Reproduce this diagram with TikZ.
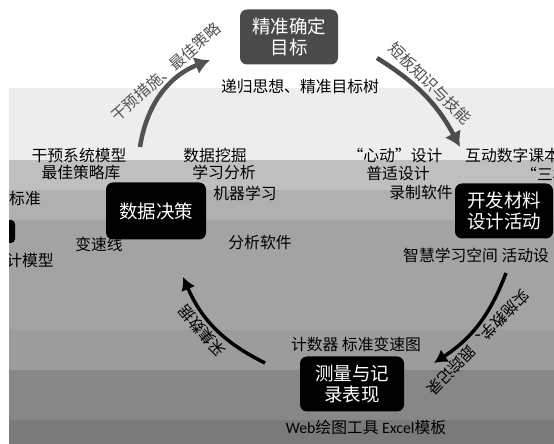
\documentclass[tikz,border=0pt]{standalone}
\usepackage{fontspec}
\setmainfont{Noto Sans CJK SC}
\newfontfamily\latinfont{Carlito}
\usetikzlibrary{arrows.meta}

\begin{document}
\begin{tikzpicture}[x=1pt,y=1pt,
    box/.style={fill=black,text=white,rounded corners=7pt,align=center,inner sep=0pt,
      font=\fontsize{18.5}{21}\selectfont,minimum width=98pt,minimum height=55pt},
    txt/.style={font=\fontsize{15.8}{18}\selectfont,inner sep=0pt},
    tag/.style={font=\fontsize{15.5}{18}\selectfont,sloped,above,allow upside down,inner sep=3pt}]
      \useasboundingbox (0,0) rectangle (554,444);
      \fill[black!7] (9,284) rectangle (554,356);
      \fill[black!25] (9,254) rectangle (554,284);
      \fill[black!31] (9,224) rectangle (554,254);
      \fill[black!36] (9,114) rectangle (554,224);
      \fill[black!39] (9,74) rectangle (554,114);
      \fill[black!47] (9,24) rectangle (554,74);
      \fill[black!52] (9,0) rectangle (554,24);
      \fill[black,rounded corners=4pt] (-10,201) rectangle (15,224);
      \draw
        (289,407) node[box,fill=black!71] (0){精准确定\\目标}
        (504,233) node[box] (1){开发材料\\设计活动}
        (352,60) node[box,minimum width=104pt] (2){测量与记\\录表现}
        (156,233) node[box,minimum width=100pt,minimum height=57pt] (3){数据决策};
      \draw
        (300,357) node[txt] (4){递归思想、精准目标树}
        (79,289) node[txt] (5){干预系统模型}
        (81,271) node[txt] (6){最佳策略库}
        (215,289) node[txt] (7){数据挖掘}
        (224,272) node[txt] (8){学习分析}
        (245,251) node[txt] (9){机器学习}
        (41,246) node[txt,anchor=east] (10){标准}
        (54,184) node[txt,anchor=east] (11){计模型}
        (99,200) node[txt] (12){变速线}
        (260,201) node[txt] (13){分析软件}
        (395,289) node[txt] (14){“心动”设计}
        (398,270) node[txt] (15){普适设计}
        (421,251) node[txt] (16){录制软件}
        (465,289) node[txt,anchor=west] (17){互动数字课本}
        (521,270) node[txt,anchor=west] (18){“三材}
        (403,189) node[txt,anchor=west] (19){智慧学习空间\ 活动设}
        (356,100) node[txt] (20){计数器\ 标准变速图}
        (366,17) node[txt] (21){{\latinfont Web}绘图工具\ {\latinfont Excel}模板};
      \fill[white] (0,0) rectangle (9,444);
      \coordinate (a0) at (140,297);
      \coordinate (a1) at (210,384);
      \coordinate (b0) at (377,386);
      \coordinate (b1) at (460,297);
      \coordinate (c0) at (506,171);
      \coordinate (c1) at (434,81);
      \coordinate (d0) at (265,81);
      \coordinate (d1) at (183,167);
      \begin{scope}[line width=4.5pt,-{Latex[length=15pt,width=18pt]}]
        \draw[black!68] (a0) to[bend left=30] node[tag,pos=0.65] {干预措施、最佳策略} (a1);
        \draw[black!70] (b0) to[bend left=15] node[tag,pos=0.45] {短板知识与技能} (b1);
      \end{scope}
      \begin{scope}[line width=3.5pt,-{Latex[length=13pt,width=15pt]}]
        \draw (c0) to[bend left=18] node[tag,pos=0.62] {实施教学、跟踪记录} (c1);
        \draw (d0) to[bend left=20] node[tag,pos=0.56] {采集数据} (d1);
      \end{scope}
    \end{tikzpicture}
\end{document}
